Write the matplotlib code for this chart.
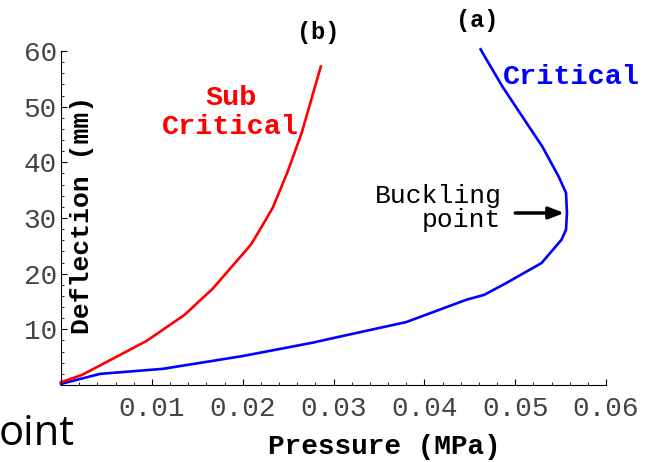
import matplotlib
matplotlib.use("Agg")
import matplotlib.pyplot as plt
from matplotlib.ticker import MultipleLocator

# curve (a): critical, goes past the buckling point
press_a = [0.0, 0.0043, 0.0112, 0.020, 0.0277, 0.0296, 0.038, 0.0446, 0.0466,
           0.049, 0.0529, 0.0551, 0.0556, 0.0557, 0.0556, 0.0548, 0.053,
           0.051, 0.0486, 0.0464, 0.0462]
defl_a = [0.2, 2.0, 2.9, 5.2, 7.6, 8.3, 11.3, 15.3, 16.2,
          18.3, 21.9, 26.1, 27.9, 30.9, 34.5, 37.4, 42.8,
          47.7, 53.6, 59.7, 60.3]

# curve (b): sub critical
press_b = [0.0, 0.0023, 0.0094, 0.0136, 0.0167, 0.0209, 0.0219, 0.0233,
           0.0249, 0.0265, 0.0286]
defl_b = [0.5, 1.8, 7.9, 12.6, 17.3, 25.2, 27.9, 31.8, 38.1, 45.3, 57.2]

x_ticks = [0.01, 0.02, 0.03, 0.04, 0.05, 0.06]
y_ticks = [10, 20, 30, 40, 50, 60]

W, H = 657, 462
mono = "Liberation Mono"

fig = plt.figure(figsize=(W / 100, H / 100), dpi=100)
# axes box in pixels: x 61..606, y 51..385
ax = fig.add_axes([61 / W, (H - 385) / H, (606 - 61) / W, (385 - 51) / H])

ax.plot(press_a, defl_a, color="#0000ff", linewidth=1.9, clip_on=False)
ax.plot(press_b, defl_b, color="#ff0000", linewidth=1.9, clip_on=False)

ax.set_xlim(0, 0.06)
ax.set_ylim(0, 60)
ax.set_xticks(x_ticks)
ax.set_xticklabels(["%.2f" % v for v in x_ticks])
ax.set_yticks(y_ticks)
ax.set_yticklabels([str(v) for v in y_ticks])
ax.xaxis.set_minor_locator(MultipleLocator(0.002))
ax.yaxis.set_minor_locator(MultipleLocator(2))

for s in ["top", "right"]:
    ax.spines[s].set_visible(False)
for s in ["left", "bottom"]:
    ax.spines[s].set_linewidth(0.8)

ax.tick_params(axis="both", which="major", direction="in", length=4, width=0.8,
               labelsize=20, labelcolor="#444444")
ax.tick_params(axis="both", which="minor", direction="in", length=2, width=0.6)
ax.tick_params(axis="x", which="major", pad=8)
ax.tick_params(axis="y", which="major", pad=3)
for lab in ax.get_xticklabels() + ax.get_yticklabels():
    lab.set_family(mono)

# axis titles
fig.text(384 / W, 1 - 447 / H, "Pressure (MPa)", family=mono, fontweight="bold",
         fontsize=20, ha="center", va="center")
fig.text(82 / W, 1 - 215 / H, "Deflection (mm)", family=mono, fontweight="bold",
         fontsize=19, rotation=90, ha="center", va="center")

# curve labels
ax.text(0.0187, 49.0, "Sub\nCritical", color="#ff0000", family=mono,
        fontweight="bold", fontsize=20.5, ha="center", va="center", linespacing=1.15)
ax.text(0.0487, 55.4, "Critical", color="#0000ff", family=mono,
        fontweight="bold", fontsize=20.5, ha="left", va="center")
fig.text(318 / W, 1 - 32 / H, "(b)", family=mono, fontweight="bold",
         fontsize=17, ha="center", va="center")
fig.text(477 / W, 1 - 20 / H, "(a)", family=mono, fontweight="bold",
         fontsize=17, ha="center", va="center")

# buckling point
ax.text(0.0485, 31.8, "Buckling\npoint", family=mono, fontsize=19,
        ha="right", va="center", linespacing=1.05)
ax.annotate("", xy=(0.0557, 30.9), xytext=(0.0497, 30.9),
            arrowprops=dict(arrowstyle="-|>,head_length=0.9,head_width=0.35",
                            color="black", lw=2.5))

# stray text from the source slide
fig.text(-1 / W, 1 - 445 / H, "oint", family="Open Sans", fontsize=30,
         ha="left", va="baseline")

fig.savefig("out.png", dpi=100)
